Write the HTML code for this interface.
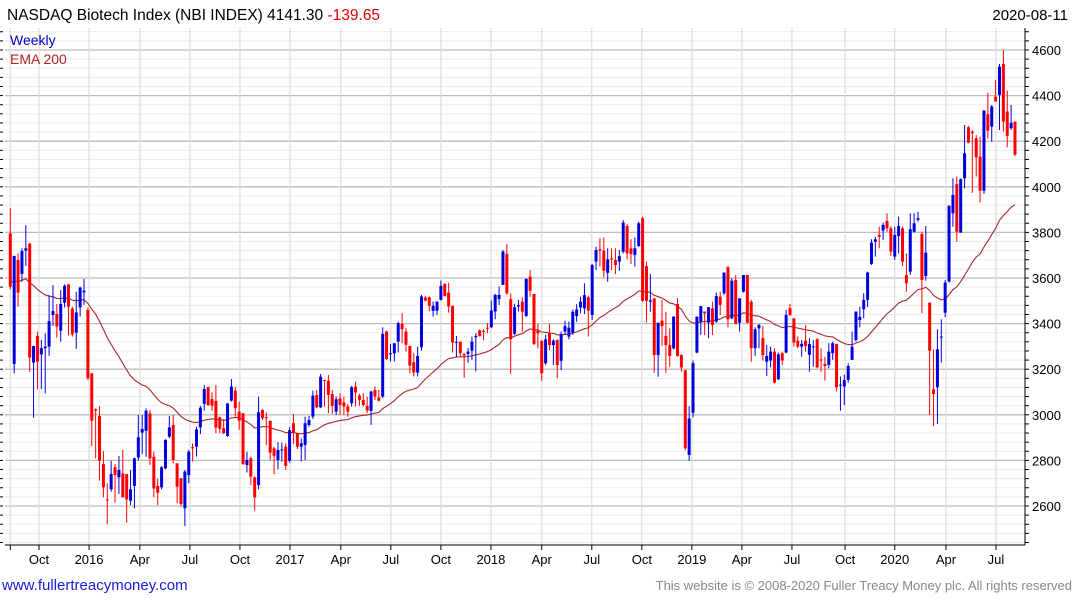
<!DOCTYPE html>
<html><head><meta charset="utf-8">
<style>
body{margin:0;background:#fff;font-family:"Liberation Sans",sans-serif;}
#wrap{position:relative;width:1075px;height:600px;overflow:hidden;}
</style></head>
<body>
<div id="wrap">
<svg id="chart" width="1075" height="600" xmlns="http://www.w3.org/2000/svg">
<g id="grid"></g>
<g id="axes"></g>
<g id="ema"></g>
<g id="candles"></g>
<text x="7" y="20" font-size="15.5" fill="#000">NASDAQ Biotech Index (NBI INDEX) 4141.30 <tspan fill="#e00000">-139.65</tspan></text>
<text x="1068" y="20" font-size="15" text-anchor="end" fill="#000">2020-08-11</text>
<text x="10" y="45" font-size="14" fill="#0000cc">Weekly</text>
<text x="10" y="64" font-size="14" fill="#b22222">EMA 200</text>
<text x="2" y="590" font-size="15" fill="#1a1adb">www.fullertreacymoney.com</text>
<text x="1072" y="590" font-size="13" text-anchor="end" fill="#888">This website is © 2008-2020 Fuller Treacy Money plc. All rights reserved</text>
</svg>
</div>
<script>
const opens=[3796,3223,3679,3618,3720,3752,3229,3346,3265,3292,3299,3438,3442,3369,3492,3572,3466,3360,3471,3537,3460,3182,3024,2995,2784,2629,2673,2770,2726,2743,2740,2623,2688,2813,2922,2930,3006,2816,2688,2682,2765,2904,2955,2787,2722,2590,2736,2858,2860,2945,3048,3121,3069,3061,2989,2941,2907,3062,3106,3014,3007,2780,2809,2726,2692,3021,2990,2974,2853,2802,2846,2860,2798,2963,2919,2860,2868,2955,2992,3087,3033,3153,3150,3091,3014,3072,3054,3036,3051,3124,3084,3065,3039,3017,3109,3076,3080,3365,3266,3270,3321,3399,3365,3302,3231,3185,3296,3514,3516,3456,3456,3504,3574,3536,3478,3317,3321,3267,3267,3282,3340,3370,3368,3382,3384,3453,3508,3570,3706,3507,3355,3475,3496,3433,3606,3530,3369,3325,3226,3357,3306,3328,3237,3365,3343,3360,3433,3471,3467,3515,3438,3672,3726,3720,3623,3686,3679,3672,3715,3828,3730,3701,3740,3862,3652,3496,3511,3262,3413,3346,3306,3291,3486,3262,3196,2824,3009,3273,3409,3453,3404,3467,3409,3518,3533,3647,3423,3591,3404,3540,3613,3496,3292,3379,3336,3233,3238,3277,3156,3270,3273,3467,3423,3325,3299,3325,3263,3297,3331,3243,3223,3219,3270,3311,3128,3124,3153,3241,3328,3416,3463,3504,3662,3759,3789,3808,3850,3818,3694,3784,3818,3613,3628,3803,3855,3793,3609,3492,3112,3121,3340,3448,3584,3884,4012,3799,4037,4261,4242,4213,4132,3983,4319,4264,4395,4403,4539,4330,4257,4286];
const highs=[3906,3697,3708,3730,3832,3752,3302,3365,3328,3357,3525,3569,3486,3547,3572,3572,3474,3540,3562,3596,3471,3182,3028,3039,2841,2699,2799,2784,2819,2846,2740,2758,2812,2999,2999,3028,3021,2838,2721,2775,2893,2995,3000,2787,2722,2758,2846,2875,2948,3039,3131,3124,3099,3131,2992,2981,3050,3157,3121,3058,3007,2838,2817,2729,3080,3024,3011,2974,2860,2880,2878,2875,2945,3004,2919,2897,2992,2995,3106,3109,3179,3153,3175,3109,3080,3094,3080,3048,3127,3146,3092,3095,3080,3106,3124,3109,3384,3369,3311,3314,3409,3446,3380,3302,3270,3299,3526,3522,3519,3497,3497,3589,3577,3580,3478,3346,3321,3270,3292,3343,3358,3375,3375,3402,3501,3530,3563,3723,3750,3533,3487,3504,3515,3598,3635,3530,3398,3325,3350,3398,3331,3331,3365,3413,3409,3462,3485,3518,3577,3521,3661,3737,3774,3778,3730,3730,3730,3723,3854,3837,3770,3778,3847,3869,3672,3617,3511,3404,3503,3452,3379,3433,3511,3266,3196,3038,3238,3431,3477,3453,3472,3496,3536,3540,3624,3653,3599,3613,3511,3613,3613,3504,3384,3398,3390,3306,3299,3292,3273,3277,3460,3486,3423,3343,3328,3394,3336,3328,3336,3292,3255,3314,3321,3311,3168,3175,3226,3365,3453,3474,3533,3628,3770,3781,3825,3843,3884,3828,3825,3869,3825,3708,3884,3884,3891,3803,3828,3492,3287,3375,3419,3591,3920,4037,4045,4037,4271,4267,4249,4227,4220,4337,4413,4359,4469,4539,4600,4422,4359,4286];
const lows=[3550,3182,3474,3584,3653,3189,2987,3112,3113,3094,3259,3390,3338,3321,3471,3348,3343,3289,3431,3482,3153,2863,2809,2711,2638,2521,2663,2615,2653,2638,2527,2604,2590,2799,2828,2816,2780,2638,2604,2673,2761,2897,2787,2612,2597,2512,2700,2795,2817,2915,3018,3039,3018,2919,2919,2916,2904,3058,2992,2934,2780,2747,2692,2580,2673,2977,2868,2802,2739,2761,2795,2758,2790,2872,2850,2795,2802,2948,2981,3029,3029,3036,3007,3004,2999,2999,2999,2992,3036,3036,3039,3036,3007,2956,3065,3058,3073,3241,3234,3234,3273,3314,3277,3182,3168,3168,3282,3497,3453,3431,3438,3501,3519,3448,3273,3253,3253,3163,3229,3241,3190,3343,3326,3358,3380,3419,3482,3570,3526,3179,3350,3453,3365,3430,3518,3306,3291,3150,3218,3284,3218,3160,3196,3350,3331,3350,3408,3445,3442,3343,3416,3635,3650,3603,3584,3635,3617,3632,3708,3682,3661,3650,3737,3496,3404,3452,3185,3167,3302,3185,3211,3287,3255,3189,2845,2799,2989,3270,3350,3350,3336,3350,3404,3438,3526,3384,3419,3398,3365,3536,3401,3233,3258,3292,3238,3170,3208,3138,3153,3219,3270,3433,3299,3292,3255,3277,3189,3211,3204,3189,3150,3204,3241,3102,3018,3043,3141,3241,3321,3384,3423,3472,3657,3694,3730,3767,3803,3697,3679,3708,3653,3540,3613,3799,3847,3445,3588,2999,2951,2960,3229,3428,3580,3825,3759,3799,3993,4191,3974,4045,3931,3969,4213,4198,4374,4249,4242,4173,4249,4135];
const closes=[3562,3697,3536,3718,3730,3251,3302,3233,3292,3299,3411,3455,3387,3486,3566,3474,3353,3449,3558,3544,3160,2974,3018,2799,2682,2626,2740,2736,2758,2638,2629,2673,2809,2901,2938,3018,2809,2677,2658,2770,2890,2945,2802,2685,2609,2751,2838,2853,2936,3031,3113,3043,3040,2944,2938,2919,3050,3124,3029,2974,2784,2802,2729,2638,3011,2985,2987,2834,2820,2846,2848,2776,2933,2922,2860,2875,2963,2977,3084,3033,3167,3150,3087,3039,3068,3043,3036,3014,3121,3098,3065,3043,3019,3102,3080,3062,3355,3245,3270,3314,3402,3375,3307,3216,3185,3258,3519,3501,3478,3478,3497,3565,3521,3475,3317,3320,3270,3260,3277,3321,3346,3346,3365,3378,3457,3526,3526,3716,3533,3331,3472,3481,3452,3596,3544,3310,3357,3182,3331,3306,3325,3218,3354,3389,3382,3452,3462,3496,3525,3457,3657,3723,3720,3632,3682,3682,3657,3696,3843,3708,3705,3730,3840,3500,3500,3502,3262,3404,3389,3306,3258,3430,3258,3208,2853,2984,3226,3431,3477,3445,3472,3394,3521,3482,3624,3419,3588,3398,3511,3613,3404,3292,3375,3394,3262,3258,3277,3141,3265,3238,3438,3438,3317,3299,3311,3302,3311,3300,3208,3238,3214,3277,3314,3121,3132,3153,3214,3299,3453,3430,3504,3624,3755,3770,3781,3833,3818,3716,3789,3828,3672,3577,3814,3840,3862,3591,3711,3281,3091,3287,3343,3580,3916,3964,3803,4033,4147,4194,4235,4129,3983,4334,4246,4352,4374,4527,4286,4223,4281,4141];
const emaSeed=3580;
const emaPeriod=40;
const yTicks=[2600,2800,3000,3200,3400,3600,3800,4000,4200,4400,4600];
const xTickLabels=["Oct","2016","Apr","Jul","Oct","2017","Apr","Jul","Oct","2018","Apr","Jul","Oct","2019","Apr","Jul","Oct","2020","Apr","Jul"];
const xTickWeeks=[7.4,20.3,33.4,46.3,59.2,72.1,85.2,98.1,111,123.9,137,149.9,162.8,175.7,188.6,201.5,215.2,228,241.2,254.1];

const NS="http://www.w3.org/2000/svg";
const X0=10.3,X1=1015,PL=5,PR=1025,PT=28,PB=545;
function xs(i){return X0+i*(X1-X0)/(closes.length-1);}
function ys(v){return 50+(4600-v)*0.228;}
function mk(tag,attrs,parent){const e=document.createElementNS(NS,tag);for(const k in attrs)e.setAttribute(k,attrs[k]);parent.appendChild(e);return e;}
const grid=document.getElementById('grid'),axes=document.getElementById('axes');
// horizontal grid
for(let v=2440;v<=4680;v+=40){const y=ys(v);if(y<PT||y>PB)continue;
 const major=v%200===0;
 const l=mk('line',{x1:PL,x2:PR,y1:y,y2:y,stroke:major?'#bdbdbd':'#ececec','stroke-width':major?1.3:1},grid);
 
 
 const t=mk('line',{x1:PR,x2:PR+4,y1:y,y2:y,stroke:'#000'},axes);
 
 
 const t2=mk('line',{x1:0,x2:3,y1:y,y2:y,stroke:'#000'},axes);
 
 
}
// vertical grid & x labels
const vx=[X0].concat(xTickWeeks.map(w=>xs(w)));
vx.forEach((x,k)=>{const l=mk('line',{x1:x,x2:x,y1:PT,y2:PB,stroke:'#dcdcdc','stroke-width':1.2},grid);
 
 
 const t=mk('line',{x1:x,x2:x,y1:PB,y2:PB+5,stroke:'#000'},axes);
 
 
});
xTickWeeks.forEach((w,k)=>{const t=mk('text',{x:xs(w),y:564,'font-size':13,'text-anchor':'middle',fill:'#000'},axes);t.textContent=xTickLabels[k];
 
 
});
yTicks.forEach(v=>{const t=mk('text',{x:1032,y:ys(v)+5,'font-size':13,fill:'#000'},axes);t.textContent=v;
 
 
});
const ax1=mk('line',{x1:PR,x2:PR,y1:PT,y2:PB,stroke:'#000'},axes);


const ax2=mk('line',{x1:PL,x2:PR,y1:PB,y2:PB,stroke:'#000'},axes);


// EMA
const alpha=2/(emaPeriod+1);let e=emaSeed;const pts=[];
closes.forEach((c,i)=>{if(i>0)e=e+alpha*(c-e);pts.push(xs(i).toFixed(1)+','+ys(e).toFixed(1));});
const pl=mk('polyline',{points:pts.join(' '),fill:'none',stroke:'#a52a2a','stroke-width':1.1},document.getElementById('ema'));


// candles
const cg=document.getElementById('candles');
closes.forEach((c,i)=>{const o=opens[i],up=c>=o,col=up?'#0000dd':'#ff0000',x=xs(i);
 const g=mk('g',{},cg);
 
 
 mk('line',{x1:x,x2:x,y1:ys(highs[i]),y2:ys(lows[i]),stroke:col,'stroke-width':1},g);
 const top=ys(Math.max(o,c)),bot=ys(Math.min(o,c));
 mk('rect',{x:x-1.5,y:top,width:3,height:Math.max(1,bot-top),fill:col},g);
});
</script>
</body></html>
